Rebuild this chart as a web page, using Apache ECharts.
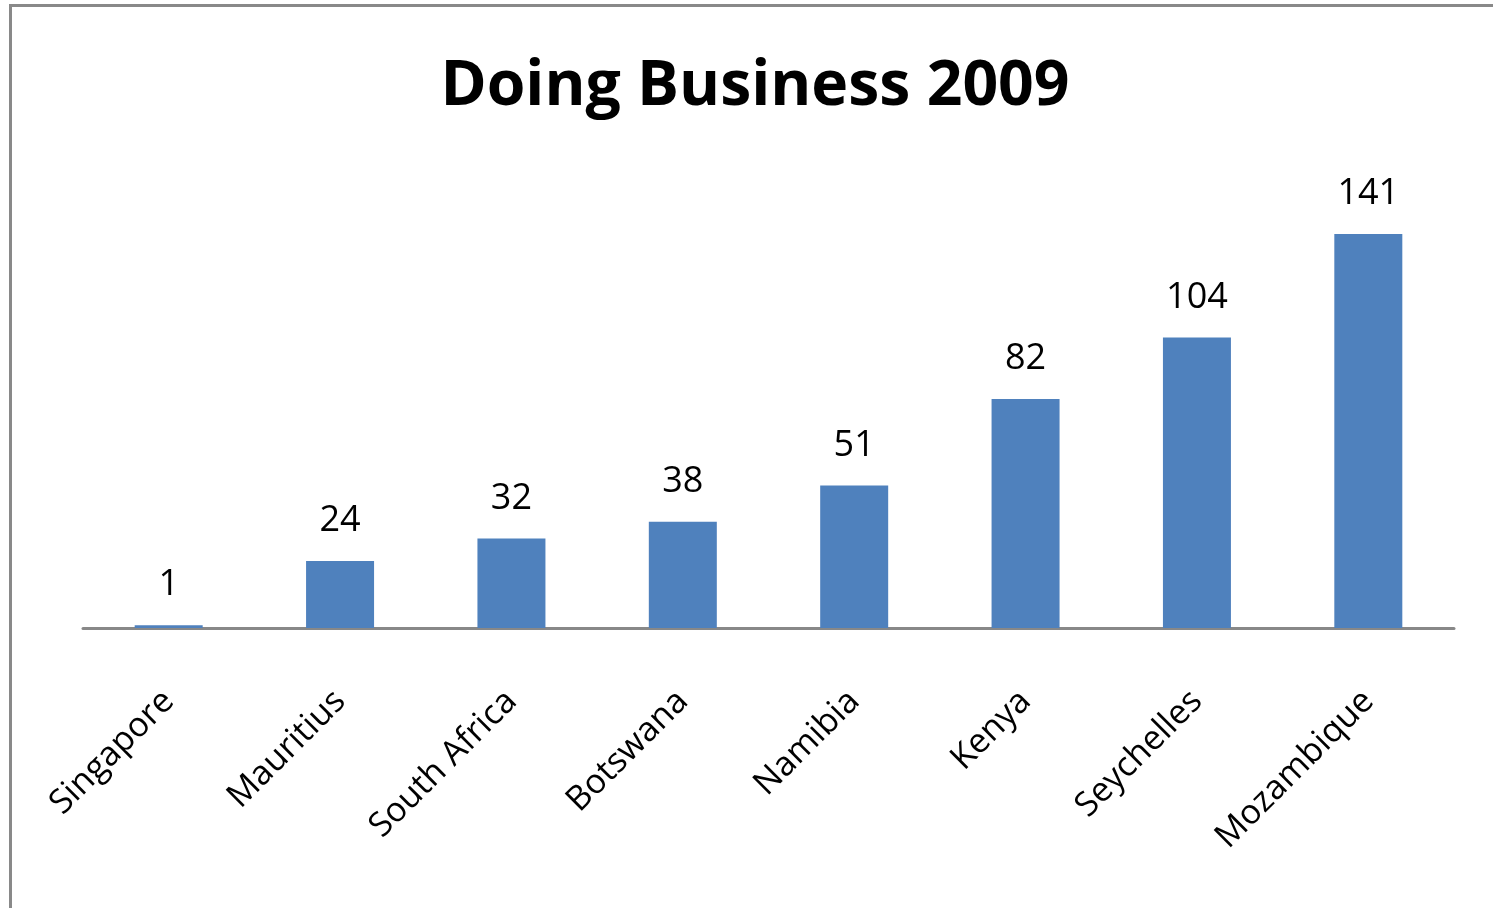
<!DOCTYPE html>
<html>
<head>
<meta charset="utf-8">
<script src="https://cdn.jsdelivr.net/npm/echarts@6/dist/echarts.min.js"></script>
<style>
html,body{margin:0;padding:0;background:#fff;}
#chart{width:1493px;height:908px;}
</style>
</head>
<body>
<div id="chart"></div>
<script>
const titleText = 'Doing Business 2009';
const categories = ['Singapore','Mauritius','South Africa','Botswana','Namibia','Kenya','Seychelles','Mozambique'];
const values = [1, 24, 32, 38, 51, 82, 104, 141];

const chart = echarts.init(document.getElementById('chart'), null, {renderer:'canvas'});
chart.setOption({
  animation: false,
  backgroundColor: '#ffffff',
  title: {
    text: titleText,
    left: 750,
    textAlign: 'center',
    top: 51,
    textStyle: {fontFamily: 'Open Sans', fontWeight: 'bold', fontSize: 62.5, color: '#000'}
  },
  graphic: [{
    type: 'rect',
    shape: {x: 10.5, y: 5.5, width: 2000, height: 2000},
    style: {fill: 'none', stroke: '#898989', lineWidth: 3},
    silent: true
  }],
  grid: {left: 83, right: 39, top: 181, bottom: 280, containLabel: false},
  xAxis: {
    type: 'category',
    data: categories,
    axisLine: {show: true, lineStyle: {color: '#888888', width: 3}},
    axisTick: {show: false},
    axisLabel: {interval: 0, rotate: 45, margin: 68, fontFamily: 'Open Sans', fontSize: 34, color: '#000'}
  },
  yAxis: {
    type: 'value', min: 0, max: 160, interval: 20,
    show: false,
    splitLine: {show: false}
  },
  series: [{
    type: 'bar',
    data: values,
    barWidth: 68,
    itemStyle: {color: '#4F81BD'},
    label: {show: true, position: 'top', distance: 22, fontFamily: 'Open Sans', fontSize: 36, color: '#000'}
  }]
});
</script>
</body>
</html>
